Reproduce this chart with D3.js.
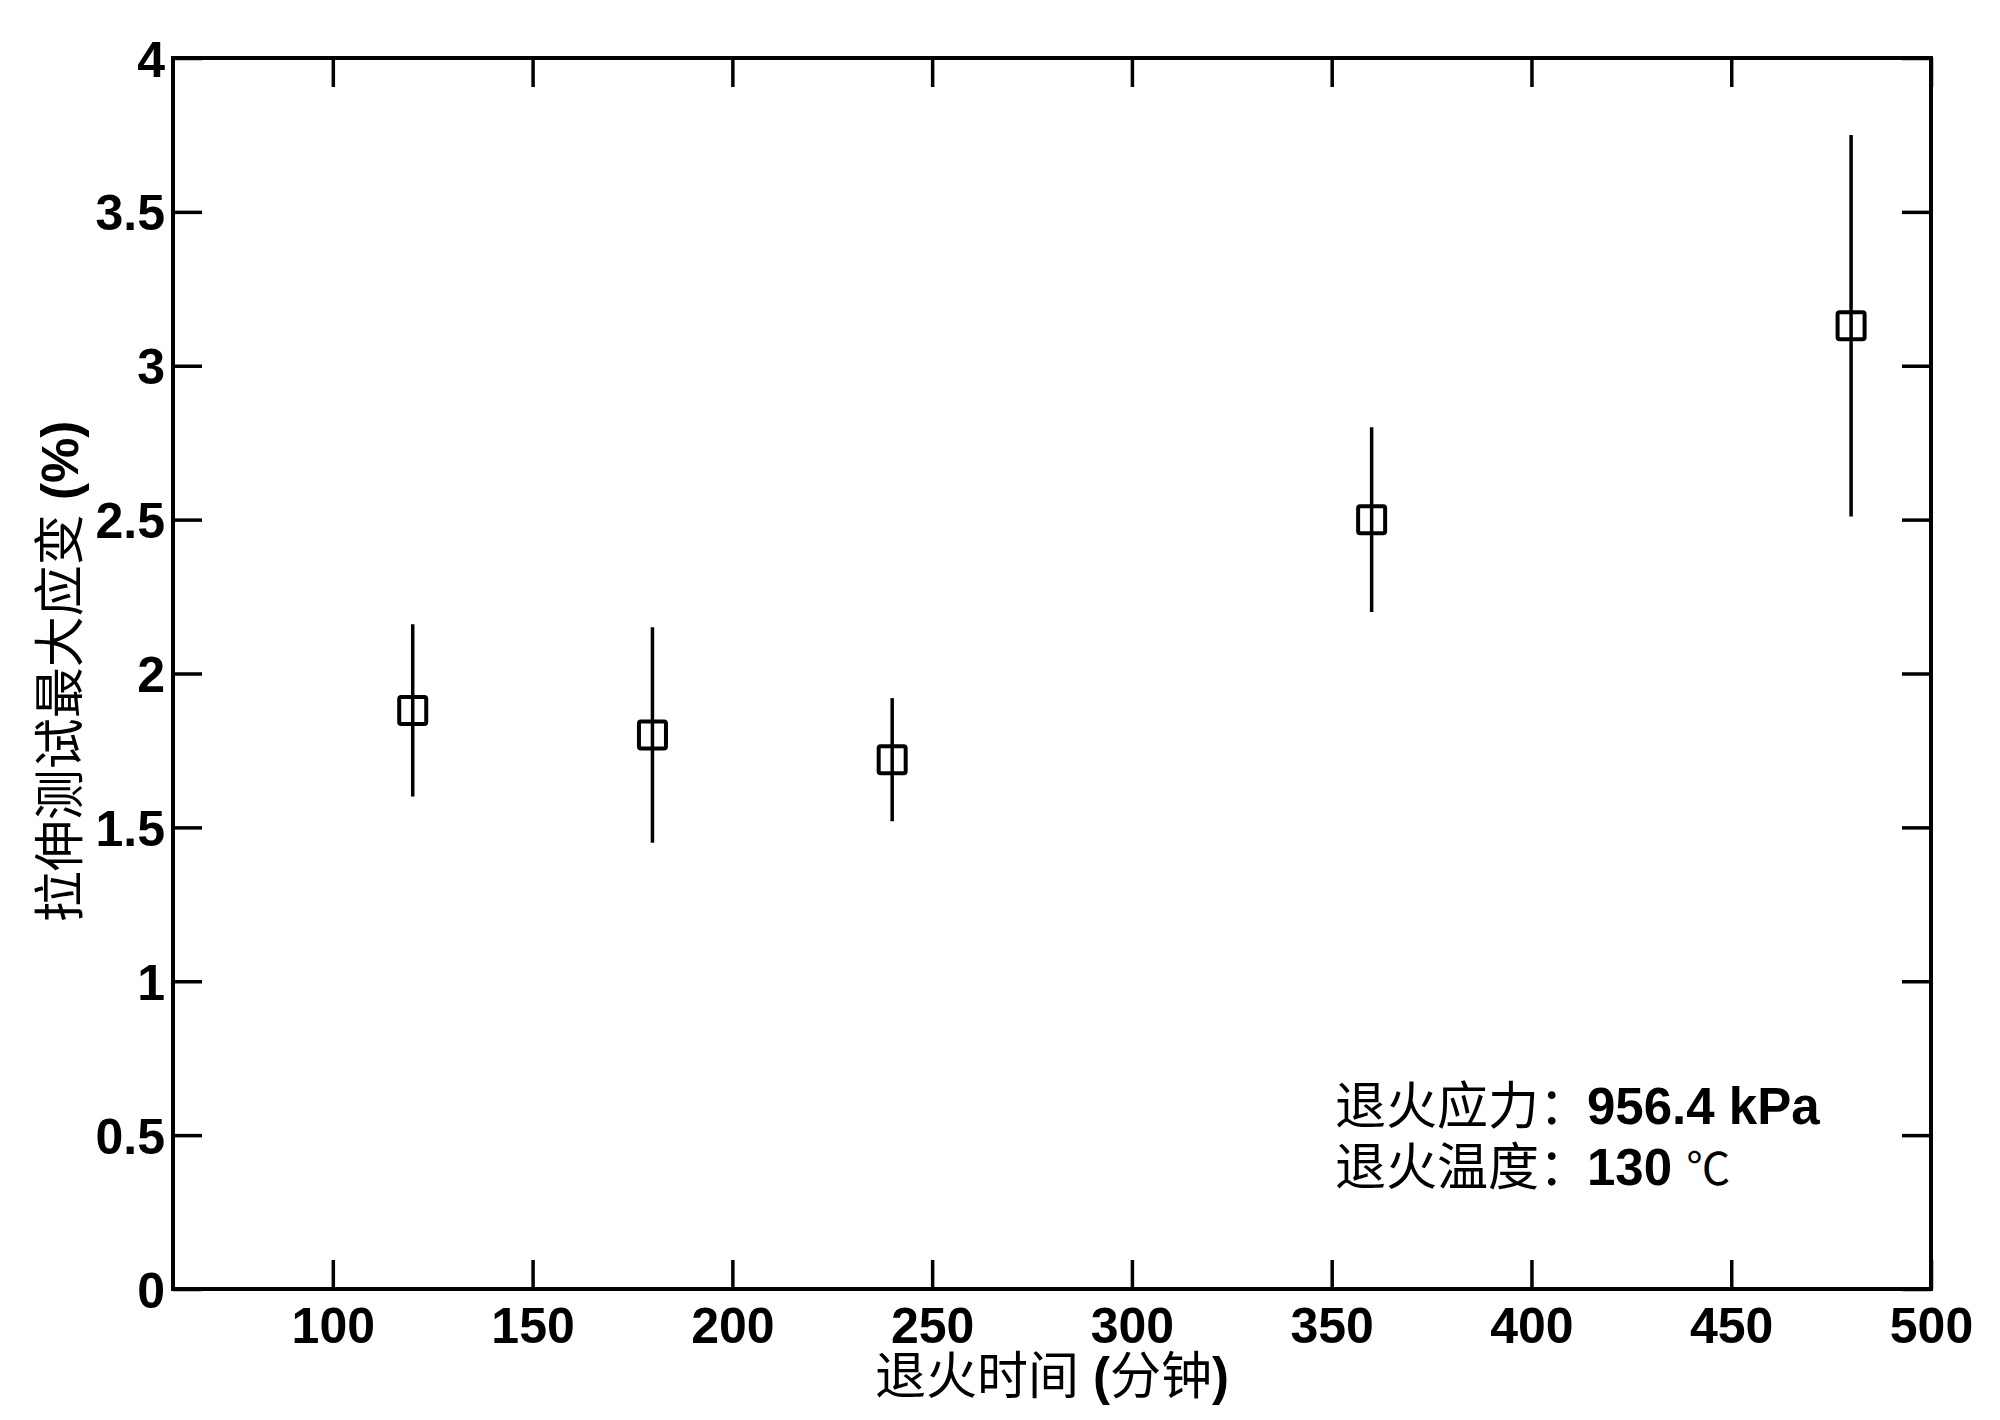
<!DOCTYPE html>
<html>
<head>
<meta charset="utf-8">
<script src="https://cdn.jsdelivr.net/npm/d3@7"></script>
<style>
  body { margin: 0; background: #fff; }
  svg text { font-family: "Liberation Sans", Arial, "Noto Sans CJK SC", sans-serif; fill: #000; }
</style>
</head>
<body>
<div id="chart"></div>
<script>
// Data
var annealTimes = [120, 180, 240, 360, 480];
var maxStrain = [1.88, 1.80, 1.72, 2.50, 3.13];
var strainErr = [0.28, 0.35, 0.20, 0.30, 0.62];
var xTicks = [100, 150, 200, 250, 300, 350, 400, 450, 500];
var yTicks = [0, 0.5, 1, 1.5, 2, 2.5, 3, 3.5, 4];

var width = 2000, height = 1420;
var plotLeft = 173, plotRight = 1931, plotTop = 58, plotBottom = 1289;
var tickLen = 29;

var svg = d3.select('#chart').append('svg')
    .attr('width', width)
    .attr('height', height);

var x = d3.scaleLinear().domain([60, 500]).range([plotLeft, plotRight]);
var y = d3.scaleLinear().domain([0, 4]).range([plotBottom, plotTop]);

// Ticks on all four sides, pointing inward
function styleAxis(g) {
    g.select('.domain').remove();
    g.selectAll('.tick line').attr('stroke', '#000').attr('stroke-width', 3.5);
    g.selectAll('.tick text')
        .attr('font-size', 50)
        .attr('font-weight', 'bold')
        .attr('fill', '#000');
}

svg.append('g')
    .attr('transform', 'translate(0,' + plotBottom + ')')
    .call(d3.axisBottom(x).tickValues(xTicks).tickSizeInner(-tickLen).tickSizeOuter(0).tickFormat(d3.format('d')))
    .call(styleAxis)
    .selectAll('.tick text').attr('dy', '0.71em').attr('y', 18);

svg.append('g')
    .attr('transform', 'translate(0,' + plotTop + ')')
    .call(d3.axisTop(x).tickValues(xTicks).tickSizeInner(-tickLen).tickSizeOuter(0).tickFormat(''))
    .call(styleAxis);

svg.append('g')
    .attr('transform', 'translate(' + plotLeft + ',0)')
    .call(d3.axisLeft(y).tickValues(yTicks).tickSizeInner(-tickLen).tickSizeOuter(0).tickFormat(d3.format('')))
    .call(styleAxis)
    .selectAll('.tick text').attr('x', -8).attr('dy', '0.36em');

svg.append('g')
    .attr('transform', 'translate(' + plotRight + ',0)')
    .call(d3.axisRight(y).tickValues(yTicks).tickSizeInner(-tickLen).tickSizeOuter(0).tickFormat(''))
    .call(styleAxis);

// Frame
svg.append('rect')
    .attr('x', plotLeft)
    .attr('y', plotTop)
    .attr('width', plotRight - plotLeft)
    .attr('height', plotBottom - plotTop)
    .attr('fill', 'none')
    .attr('stroke', '#000')
    .attr('stroke-width', 4);

var points = annealTimes.map(function(t, i) {
    return { t: t, v: maxStrain[i], e: strainErr[i] };
});

// Error bars
svg.append('g')
    .selectAll('line')
    .data(points)
    .enter()
    .append('line')
    .attr('x1', function(d) { return x(d.t); })
    .attr('x2', function(d) { return x(d.t); })
    .attr('y1', function(d) { return y(d.v + d.e); })
    .attr('y2', function(d) { return y(d.v - d.e); })
    .attr('stroke', '#000')
    .attr('stroke-width', 3.5);

// Open square markers
var sq = 27;
svg.append('g')
    .selectAll('rect')
    .data(points)
    .enter()
    .append('rect')
    .attr('x', function(d) { return x(d.t) - sq / 2; })
    .attr('y', function(d) { return y(d.v) - sq / 2; })
    .attr('width', sq)
    .attr('height', sq)
    .attr('rx', 2)
    .attr('fill', 'none')
    .attr('stroke', '#000')
    .attr('stroke-width', 4);

// Axis titles
svg.append('text')
    .attr('x', (plotLeft + plotRight) / 2)
    .attr('y', 1394)
    .attr('text-anchor', 'middle')
    .attr('font-size', 51)
    .html('<tspan>退火时间 </tspan><tspan font-weight="bold">(</tspan>分钟<tspan font-weight="bold">)</tspan>');

svg.append('text')
    .attr('transform', 'translate(78,' + ((plotTop + plotBottom) / 2 - 2) + ') rotate(-90)')
    .attr('text-anchor', 'middle')
    .attr('font-size', 51)
    .html('<tspan>拉伸测试最大应变 </tspan><tspan font-weight="bold">(%)</tspan>');

// Annotation
var note = svg.append('g').attr('font-size', 51);
note.append('text')
    .attr('x', 1335)
    .attr('y', 1124)
    .html('退火应力：<tspan x="1587" font-weight="bold">956.4 kPa</tspan>');
note.append('text')
    .attr('x', 1335)
    .attr('y', 1185)
    .html('退火温度：<tspan x="1587" font-weight="bold">130 </tspan><tspan font-size="44">℃</tspan>');
</script>
</body>
</html>
